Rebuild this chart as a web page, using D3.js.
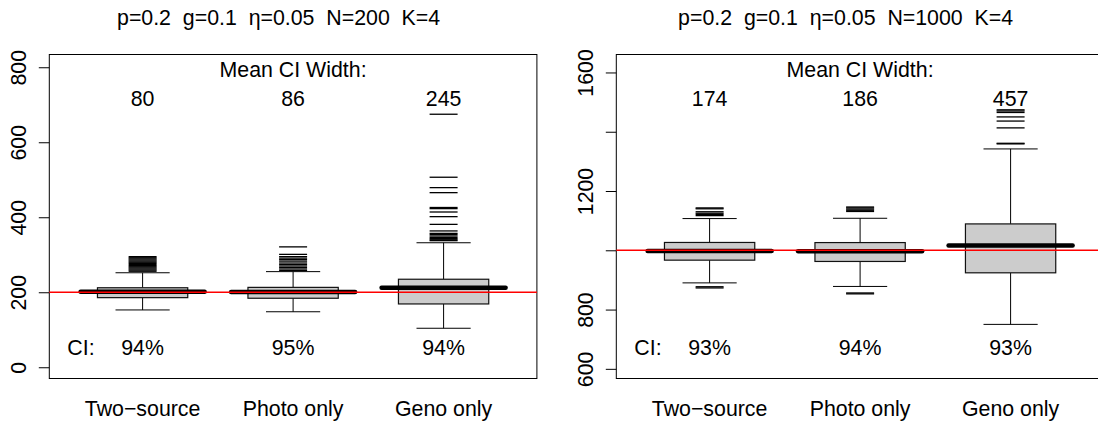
<!DOCTYPE html>
<html><head><meta charset="utf-8">
<script src="https://cdn.jsdelivr.net/npm/d3@7"></script>
<style>
body{margin:0;background:#fff}
text{font-family:"Liberation Sans",Arial,Helvetica,sans-serif;font-size:21.33px;fill:#000}
</style></head>
<body><svg id="chart" width="1098" height="424"></svg>
<script>
// ---- data ----
const categories = ["Two\u2212source", "Photo only", "Geno only"];

// Panel 1: N=200
const title1 = "p=0.2  g=0.1  \u03b7=0.05  N=200  K=4";
const q1_200 = [185.6, 184, 168.8];
const med_200 = [201.6, 200.5, 212];
const q3_200 = [212, 213, 234.7];
const lo_200 = [152.8, 148, 104];
const hi_200 = [252, 255, 332];
const out_200 = [
  [256, 259, 262, 265, 268, 271, 274, 277, 280, 283, 286, 289, 292, 295],
  [258, 262, 266, 270, 274, 278, 283, 287, 291, 295, 301, 321],
  [337.6, 340, 343, 346, 350, 354, 357, 363.5, 381, 401.6, 414, 423, 426, 465.6, 479, 506.7, 674.7]
];
const truth_200 = 200;
const ciWidth_200 = ["80", "86", "245"];
const coverage_200 = ["94%", "95%", "94%"];
const ticks_200 = [0, 200, 400, 600, 800];
const tickLabels_200 = ["0", "200", "400", "600", "800"];

// Panel 2: N=1000
const title2 = "p=0.2  g=0.1  \u03b7=0.05  N=1000  K=4";
const q1_1000 = [966.7, 962.3, 924];
const med_1000 = [997.5, 997, 1016];
const q3_1000 = [1026.4, 1026, 1089];
const lo_1000 = [890, 878, 750];
const hi_1000 = [1107, 1108, 1342];
const out_1000 = [
  [873, 877, 1117, 1121, 1125, 1130, 1140, 1143],
  [853, 856, 1131, 1135, 1139, 1143, 1146],
  [1359, 1361, 1413, 1436, 1450, 1465, 1470, 1474]
];
const truth_1000 = 1000;
const ciWidth_1000 = ["174", "186", "457"];
const coverage_1000 = ["93%", "94%", "93%"];
const ticks_1000 = [600, 800, 1000, 1200, 1400, 1600];
const tickLabels_1000 = ["600", "800", "", "1200", "", "1600"];

// ---- drawing ----
const svg = d3.select("#chart");
svg.append("rect").attr("width", 1098).attr("height", 424).attr("fill", "#fff");

function panel(opt) {
  const top = 54.5, bottom = 378.5;
  const x = d3.scaleLinear().domain([0.38, 3.62]).range([opt.left, opt.left + 487.6]);
  const y = d3.scaleLinear().domain(opt.ydom).range([bottom, top]);
  const g = svg.append("g");
  const pos = [1, 2, 3];

  // title
  g.append("text").attr("x", x(2) - 14.5).attr("y", 25)
    .attr("text-anchor", "middle").style("white-space", "pre").text(opt.title);

  // y axis
  const ax = g.append("g").attr("transform", `translate(${opt.left},0)`)
    .call(d3.axisLeft(y).tickValues(opt.ticks).tickSize(10.5).tickPadding(0)
      .tickFormat((d, i) => opt.tickLabels[i]));
  ax.select(".domain").remove();
  ax.selectAll(".tick line").attr("stroke", "#000");
  ax.selectAll(".tick text").attr("transform", "rotate(-90)")
    .attr("x", 0).attr("y", -23).attr("dy", 0)
    .attr("text-anchor", "middle").style("font-size", "21.33px").style("font-family", "Liberation Sans, Arial, sans-serif").attr("fill", "#000");

  // frame
  g.append("rect").attr("x", opt.left).attr("y", top)
    .attr("width", 487.6).attr("height", bottom - top)
    .attr("fill", "none").attr("stroke", "#000").attr("stroke-width", 1);

  const hw = x(1.3) - x(1);     // box half-width
  const sw = x(1.18) - x(1);    // staple half-width
  const ow = x(1.093) - x(1);   // outlier dash half-width
  const mw = x(1.412) - x(1);   // thick line half-width

  pos.forEach((p, i) => {
    const cx = x(p);
    // whiskers
    g.append("line").attr("x1", cx).attr("x2", cx).attr("y1", y(opt.q3[i])).attr("y2", y(opt.hi[i])).attr("stroke", "#000");
    g.append("line").attr("x1", cx).attr("x2", cx).attr("y1", y(opt.q1[i])).attr("y2", y(opt.lo[i])).attr("stroke", "#000");
    [opt.hi[i], opt.lo[i]].forEach(v => {
      g.append("line").attr("x1", cx - sw).attr("x2", cx + sw).attr("y1", y(v)).attr("y2", y(v)).attr("stroke", "#000");
    });
    // box
    g.append("rect").attr("x", cx - hw).attr("y", y(opt.q3[i]))
      .attr("width", 2 * hw).attr("height", y(opt.q1[i]) - y(opt.q3[i]))
      .attr("fill", "#cccccc").attr("stroke", "#111").attr("stroke-width", 1.2);
    // outliers
    opt.out[i].forEach(v => {
      g.append("line").attr("x1", cx - ow).attr("x2", cx + ow).attr("y1", y(v)).attr("y2", y(v))
        .attr("stroke", "#000").attr("stroke-width", 1.3);
    });
    // thick median
    g.append("line").attr("x1", cx - mw).attr("x2", cx + mw).attr("y1", y(opt.med[i])).attr("y2", y(opt.med[i]))
      .attr("stroke", "#000").attr("stroke-width", 4.5).attr("stroke-linecap", "round");
    // texts
    g.append("text").attr("x", cx).attr("y", 106).attr("text-anchor", "middle").text(opt.width[i]);
    g.append("text").attr("x", cx).attr("y", 355).attr("text-anchor", "middle").text(opt.cov[i]);
    // category label
    g.append("text").attr("x", cx).attr("y", 416).attr("text-anchor", "middle").text(categories[i]);
  });

  g.append("text").attr("x", x(2)).attr("y", 77).attr("text-anchor", "middle").text("Mean CI Width:");
  g.append("text").attr("x", x(0.5)).attr("y", 355).attr("text-anchor", "start").text("CI:");

  // truth line
  g.append("line").attr("x1", opt.left).attr("x2", opt.left + 487.6)
    .attr("y1", y(opt.truth)).attr("y2", y(opt.truth)).attr("stroke", "#ff0000").attr("stroke-width", 1.5);
}

panel({left: 49.3, ydom: [-30, 834], title: title1, ticks: ticks_200, tickLabels: tickLabels_200,
  q1: q1_200, med: med_200, q3: q3_200, lo: lo_200, hi: hi_200, out: out_200, truth: truth_200,
  width: ciWidth_200, cov: coverage_200});
panel({left: 616.3, ydom: [567.4, 1660.6], title: title2, ticks: ticks_1000, tickLabels: tickLabels_1000,
  q1: q1_1000, med: med_1000, q3: q3_1000, lo: lo_1000, hi: hi_1000, out: out_1000, truth: truth_1000,
  width: ciWidth_1000, cov: coverage_1000});
</script></body></html>
